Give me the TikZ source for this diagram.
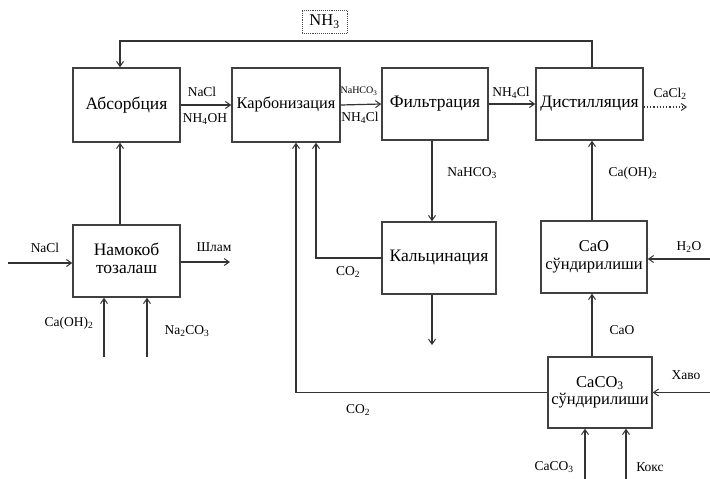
\documentclass[tikz,border=0pt]{standalone}
\usepackage{fontspec}
\setmainfont{Liberation Serif}
\usetikzlibrary{arrows.meta}
\newcommand{\sbs}[1]{\textsubscript{#1}}
\newcommand{\upone}[1]{\raisebox{4pt}{#1}}
\newcommand{\uptwo}[2]{\raisebox{5pt}{\begin{tabular}{@{}c@{}}#1\\#2\end{tabular}}}
\begin{document}
\begin{tikzpicture}[x=1pt,y=-1pt,
  proc/.style={draw=black!75,line width=1.5pt,fill=white,inner sep=1pt,align=center,font=\fontsize{17.5}{19}\selectfont},
  conn/.style={draw=black!80,line width=1.2pt},
  arr/.style={conn,-{Straight Barb[length=5pt,width=7pt,line width=1pt]}},
  lbl/.style={font=\fontsize{13.5}{15}\selectfont,inner sep=0pt},
  tiny/.style={font=\fontsize{10}{11}\selectfont,inner sep=0pt}]
\useasboundingbox (0,0) rectangle (710,479);
% boxes
\node[proc,minimum width=107pt,minimum height=74pt] (abs) at (126.5,105) {\upone{Абсорбция}};
\node[proc,minimum width=108pt,minimum height=74pt,font=\fontsize{16.3}{18}\selectfont] (karb) at (286,105) {\upone{Карбонизация}};
\node[proc,minimum width=106pt,minimum height=72pt] (filt) at (435,104) {\upone{Фильтрация}};
\node[proc,minimum width=107pt,minimum height=72pt] (dist) at (589.5,104) {\upone{Дистилляция}};
\node[proc,minimum width=107pt,minimum height=72pt,font=\fontsize{17.5}{18.5}\selectfont] (nam) at (126.5,261) {\uptwo{Намокоб}{тозалаш}};
\node[proc,minimum width=114pt,minimum height=72pt] (kalc) at (439,258) {\upone{Кальцинация}};
\node[proc,minimum width=106pt,minimum height=72pt,font=\fontsize{16.5}{17.5}\selectfont] (cao) at (594,257) {\uptwo{CaO}{сўндирилиши}};
\node[proc,minimum width=104pt,minimum height=71pt,font=\fontsize{16.5}{17.5}\selectfont] (caco) at (600,392.5) {\uptwo{CaCO\sbs{3}}{сўндирилиши}};
\node[draw=black!70,densely dotted,line width=0.9pt,minimum width=45pt,minimum height=23pt,inner sep=1pt,font=\fontsize{16.5}{18}\selectfont] (nh3) at (324.5,21.5) {NH\sbs{3}};
% helper coordinates
\coordinate (c120) at (120,0);
\coordinate (c592) at (592,0);
\coordinate (c432) at (432,0);
\coordinate (c316) at (316,0);
\coordinate (c296) at (296,0);
\coordinate (t1) at (592,41);
\coordinate (t2) at (120,41);
\coordinate (caclend) at (687,107);
\coordinate (kalcend) at (432,345);
\coordinate (h2oin) at (710,259);
\coordinate (havoin) at (710,392.5);
\coordinate (cacoin) at (585,479);
\coordinate (koksin) at (626,479);
\coordinate (naclin) at (8,263);
\coordinate (shlam) at (230,262);
\coordinate (caohin) at (104,357);
\coordinate (nacoin) at (147,357);
% connectors
\draw[arr] (dist.north -| t1) -- (t1) -- (t2) -- (abs.north -| t2);
\draw[arr] (abs.east) -- (karb.west);
\draw[arr] (karb.east) -- (filt.west);
\draw[arr] (filt.east) -- (dist.west);
\draw[arr,dotted] (dist.east |- caclend) -- (caclend);
\draw[arr] (filt.south -| c432) -- (kalc.north -| c432);
\draw[arr] (kalc.west) -| (karb.south -| c316);
\draw[arr] (caco.west) -| (karb.south -| c296);
\draw[arr] (kalc.south -| c432) -- (kalcend);
\draw[arr] (cao.north -| c592) -- (dist.south -| c592);
\draw[arr] (h2oin) -- (cao.east |- h2oin);
\draw[arr] (caco.north -| c592) -- (cao.south -| c592);
\draw[arr] (havoin) -- (caco.east |- havoin);
\draw[arr] (cacoin) -- (caco.south -| cacoin);
\draw[arr] (koksin) -- (caco.south -| koksin);
\draw[arr] (nam.north -| c120) -- (abs.south -| c120);
\draw[arr] (naclin) -- (nam.west |- naclin);
\draw[arr] (nam.east |- shlam) -- (shlam);
\draw[arr] (caohin) -- (nam.south -| caohin);
\draw[arr] (nacoin) -- (nam.south -| nacoin);
% labels
\node[lbl] (l1) at (202,92) {NaCl};
\node[lbl] (l2) at (205,119) {NH\sbs{4}OH};
\node[tiny] (l3) at (359,91) {NaHCO\sbs{3}};
\node[lbl] (l4) at (360,118) {NH\sbs{4}Cl};
\node[lbl] (l5) at (511,93) {NH\sbs{4}Cl};
\node[lbl] (l6) at (670,94) {CaCl\sbs{2}};
\node[lbl] (l7) at (472,173) {NaHCO\sbs{3}};
\node[lbl] (l8) at (348,272) {CO\sbs{2}};
\node[lbl] (l9) at (358,410) {CO\sbs{2}};
\node[lbl] (l10) at (633,173) {Ca(OH)\sbs{2}};
\node[lbl] (l11) at (689,247) {H\sbs{2}O};
\node[lbl] (l12) at (622,330) {CaO};
\node[lbl] (l13) at (686,375) {Хаво};
\node[lbl] (l14) at (554,467) {CaCO\sbs{3}};
\node[lbl] (l15) at (650,467) {Кокс};
\node[lbl] (l16) at (45,248) {NaCl};
\node[lbl] (l17) at (214,247) {Шлам};
\node[lbl] (l18) at (69,323) {Ca(OH)\sbs{2}};
\node[lbl] (l19) at (187,331) {Na\sbs{2}CO\sbs{3}};
\end{tikzpicture}
\end{document}
